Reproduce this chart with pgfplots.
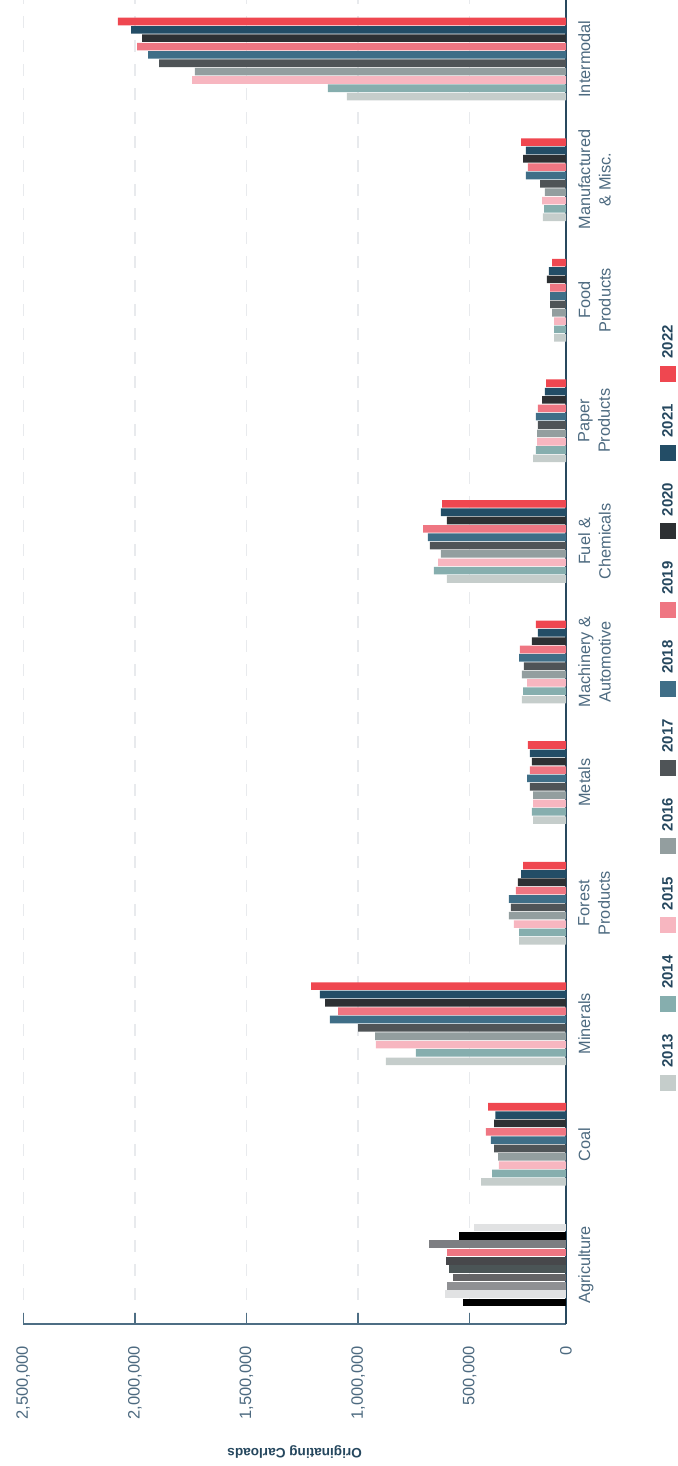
\documentclass[border=0pt]{standalone}
\usepackage{pgfplots}
\usepackage{pgfplotstable}
\pgfplotsset{compat=1.18}
\usepackage{fontspec}
\setmainfont{Liberation Sans}
\definecolor{c13}{HTML}{C5CDCB}
\definecolor{c14}{HTML}{86AEAE}
\definecolor{c15}{HTML}{F7B6C0}
\definecolor{c16}{HTML}{939E9F}
\definecolor{c17}{HTML}{4F5457}
\definecolor{c18}{HTML}{3F6E87}
\definecolor{c19}{HTML}{EF7682}
\definecolor{c20}{HTML}{2D3033}
\definecolor{c21}{HTML}{234D66}
\definecolor{c22}{HTML}{EF4750}
\definecolor{a13}{HTML}{000000}
\definecolor{a14}{HTML}{E1E2E3}
\definecolor{a15}{HTML}{8F9093}
\definecolor{a16}{HTML}{646466}
\definecolor{a17}{HTML}{4B5556}
\definecolor{a18}{HTML}{47484B}
\definecolor{a19}{HTML}{EE7682}
\definecolor{a20}{HTML}{7D7E82}
\definecolor{a21}{HTML}{000000}
\definecolor{a22}{HTML}{E1E2E3}
\definecolor{tickc}{HTML}{4E6E84}
\definecolor{rax}{HTML}{28485E}
\definecolor{lab}{HTML}{4D6A80}
\definecolor{legc}{HTML}{25475E}
\definecolor{gridc}{HTML}{E8EAED}

\pgfplotstableread{
idx y2013 y2014 y2015 y2016 y2017 y2018 y2019 y2020 y2021 y2022
0 532000 611000 602000 575000 593000 606000 602000 683000 548000 481000
1 449000 400000 369000 373000 391000 405000 427000 391000 385000 418000
2 875000 741000 920000 924000 1000000 1126000 1090000 1148000 1171000 1211000
3 279000 279000 302000 324000 315000 324000 293000 284000 270000 261000
4 216000 221000 216000 216000 230000 243000 230000 221000 230000 239000
5 266000 261000 243000 266000 257000 279000 275000 221000 194000 203000
6 602000 660000 642000 629000 678000 687000 709000 602000 629000 624000
7 216000 203000 198000 198000 194000 203000 194000 176000 163000 158000
8 122000 122000 122000 131000 140000 140000 140000 154000 145000 131000
9 172000 167000 176000 163000 185000 248000 239000 261000 248000 270000
10 1050000 1135000 1744000 1731000 1892000 1941000 1990000 1968000 2017000 2076000
}\datatable

\begin{document}
\begin{tikzpicture}
\path[use as bounding box] (-23.3pt,-142pt) rectangle (653.7pt,1324pt);
\begin{axis}[
  at={(0pt,0pt)}, anchor=south west,
  scale only axis, width=542.7pt, height=1324pt,
  xbar, bar width=7.6pt,
  x dir=reverse,
  xmin=68544, xmax=2500000,
  ymin=-0.49, ymax=10.49,
  axis x line*=bottom, axis y line*=right,
  x axis line style={-, color=tickc, line width=1.4pt},
  y axis line style={-, color=rax, line width=1.5pt},
  scaled x ticks=false,
  xtick={68544,500000,1000000,1500000,2000000,2500000},
  xticklabels={0,{500,000},{1,000,000},{1,500,000},{2,000,000},{2,500,000}},
  tick align=inside,
  major tick length=11pt,
  xtick style={color=tickc, line width=1.4pt},
  ytick={0,...,10},
  yticklabels={Agriculture,Coal,Minerals,{Forest\\Products},Metals,{Machinery \&\\Automotive},{Fuel \&\\Chemicals},{Paper\\Products},{Food\\Products},{Manufactured\\\& Misc.},Intermodal},
  ytick style={draw=none},
  xticklabel style={yshift=-22pt, rotate=90, anchor=east, inner sep=0pt, font=\fontsize{16.5}{16.5}\selectfont, text=lab},
  yticklabel style={xshift=12pt, rotate=90, anchor=north, align=center, inner sep=0pt, font=\fontsize{16.3}{20.5}\selectfont, text=lab},
  xmajorgrids,
  grid style={dash pattern=on 12pt off 12pt, color=gridc, line width=1.3pt},
  xlabel={Originating Carloads},
  xlabel style={at={(axis description cs:0.5,-0.0967)}, anchor=center, rotate=180, font=\bfseries\fontsize{13.6}{13.6}\selectfont, text=legc},
  legend columns=1,
  reverse legend,
  legend cell align=left,
  legend image code/.code={\fill[#1] (-8pt,-23pt) rectangle (8pt,-7pt);},
  legend style={at={(axis description cs:1.186,0.176)}, anchor=south, draw=none, fill=none, inner sep=0pt,
    font=\bfseries\fontsize{15}{15}\selectfont, text=legc,
    nodes={rotate=90, anchor=west, inner sep=0pt},
    row sep=22.2pt,
    /tikz/every odd column/.append style={column sep=-13.4pt}},
]
\addplot[fill=c13, draw=none, bar shift=-37.6pt, restrict y to domain=0.5:11] table[x=y2013, y=idx] {\datatable};
\addplot[fill=c14, draw=none, bar shift=-29.2pt, restrict y to domain=0.5:11] table[x=y2014, y=idx] {\datatable};
\addplot[fill=c15, draw=none, bar shift=-20.9pt, restrict y to domain=0.5:11] table[x=y2015, y=idx] {\datatable};
\addplot[fill=c16, draw=none, bar shift=-12.5pt, restrict y to domain=0.5:11] table[x=y2016, y=idx] {\datatable};
\addplot[fill=c17, draw=none, bar shift=-4.2pt, restrict y to domain=0.5:11] table[x=y2017, y=idx] {\datatable};
\addplot[fill=c18, draw=none, bar shift=4.2pt, restrict y to domain=0.5:11] table[x=y2018, y=idx] {\datatable};
\addplot[fill=c19, draw=none, bar shift=12.5pt, restrict y to domain=0.5:11] table[x=y2019, y=idx] {\datatable};
\addplot[fill=c20, draw=none, bar shift=20.9pt, restrict y to domain=0.5:11] table[x=y2020, y=idx] {\datatable};
\addplot[fill=c21, draw=none, bar shift=29.2pt, restrict y to domain=0.5:11] table[x=y2021, y=idx] {\datatable};
\addplot[fill=c22, draw=none, bar shift=37.6pt, restrict y to domain=0.5:11] table[x=y2022, y=idx] {\datatable};
\legend{2013,2014,2015,2016,2017,2018,2019,2020,2021,2022}
\addplot[forget plot, fill=a13, draw=none, bar shift=-37.6pt, restrict y to domain=-0.5:0.5] table[x=y2013, y=idx] {\datatable};
\addplot[forget plot, fill=a14, draw=none, bar shift=-29.2pt, restrict y to domain=-0.5:0.5] table[x=y2014, y=idx] {\datatable};
\addplot[forget plot, fill=a15, draw=none, bar shift=-20.9pt, restrict y to domain=-0.5:0.5] table[x=y2015, y=idx] {\datatable};
\addplot[forget plot, fill=a16, draw=none, bar shift=-12.5pt, restrict y to domain=-0.5:0.5] table[x=y2016, y=idx] {\datatable};
\addplot[forget plot, fill=a17, draw=none, bar shift=-4.2pt, restrict y to domain=-0.5:0.5] table[x=y2017, y=idx] {\datatable};
\addplot[forget plot, fill=a18, draw=none, bar shift=4.2pt, restrict y to domain=-0.5:0.5] table[x=y2018, y=idx] {\datatable};
\addplot[forget plot, fill=a19, draw=none, bar shift=12.5pt, restrict y to domain=-0.5:0.5] table[x=y2019, y=idx] {\datatable};
\addplot[forget plot, fill=a20, draw=none, bar shift=20.9pt, restrict y to domain=-0.5:0.5] table[x=y2020, y=idx] {\datatable};
\addplot[forget plot, fill=a21, draw=none, bar shift=29.2pt, restrict y to domain=-0.5:0.5] table[x=y2021, y=idx] {\datatable};
\addplot[forget plot, fill=a22, draw=none, bar shift=37.6pt, restrict y to domain=-0.5:0.5] table[x=y2022, y=idx] {\datatable};
\end{axis}
\end{tikzpicture}
\end{document}
